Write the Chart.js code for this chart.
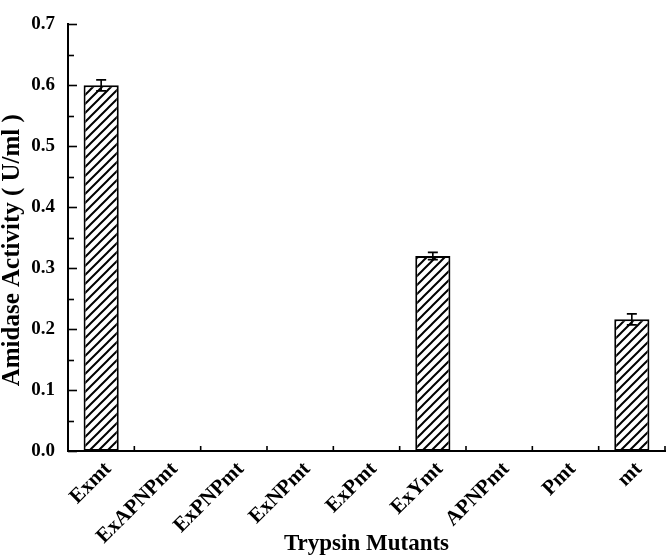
<!DOCTYPE html>
<html>
<head>
<meta charset="utf-8">
<script src="https://cdn.jsdelivr.net/npm/chart.js@4.4.1/dist/chart.umd.min.js"></script>
<style>
html,body{margin:0;padding:0;background:#fff;}
#wrap{width:666px;height:557px;}
</style>
</head>
<body>
<div id="wrap"><canvas id="c" width="666" height="557"></canvas></div>
<script>
const categories = ['Exmt','ExAPNPmt','ExPNPmt','ExNPmt','ExPmt','ExYmt','APNPmt','Pmt','mt'];
const activity = [0.600, 0, 0, 0, 0, 0.320, 0, 0, 0.216];
const activityError = [0.009, 0, 0, 0, 0, 0.006, 0, 0, 0.009];
const yTickValues = [0, 0.1, 0.2, 0.3, 0.4, 0.5, 0.6, 0.7];

function hatch() {
  const n = 9;
  const p = document.createElement('canvas');
  p.width = n; p.height = n;
  const g = p.getContext('2d');
  g.fillStyle = '#fff';
  g.fillRect(0, 0, n, n);
  g.strokeStyle = '#000';
  g.lineWidth = 2;
  g.beginPath();
  g.moveTo(-1, n + 1); g.lineTo(n + 1, -1);
  g.moveTo(-1, 1); g.lineTo(1, -1);
  g.moveTo(n - 1, n + 1); g.lineTo(n + 1, n - 1);
  g.stroke();
  return p;
}

const FONT = "'Liberation Serif', 'Times New Roman', serif";

const decor = {
  id: 'decor',
  afterDatasetsDraw(chart) {
    const ctx = chart.ctx;
    const x = chart.scales.x, y = chart.scales.y;
    const meta = chart.getDatasetMeta(0);
    ctx.save();
    ctx.strokeStyle = '#000';
    ctx.lineWidth = 1.6;
    activity.forEach((v, i) => {
      const e = activityError[i];
      if (!e) return;
      const cx = meta.data[i].x;
      const t = y.getPixelForValue(v + e), b = y.getPixelForValue(v - e);
      ctx.beginPath();
      ctx.moveTo(cx, t); ctx.lineTo(cx, b);
      ctx.moveTo(cx - 5, t); ctx.lineTo(cx + 5, t);
      ctx.moveTo(cx - 5, b); ctx.lineTo(cx + 5, b);
      ctx.stroke();
    });
    const left = chart.chartArea.left;
    for (let k = 0; k <= 14; k++) {
      const v = k * 0.05;
      const py = Math.round(y.getPixelForValue(v)) + 0.5;
      const len = (k % 2 === 0) ? 9 : 6;
      ctx.beginPath();
      ctx.moveTo(left, py); ctx.lineTo(left + len, py);
      ctx.stroke();
    }
    const bottom = chart.chartArea.bottom;
    for (let i = 0; i <= categories.length; i++) {
      const px = x.getPixelForValue(i - 0.5);
      ctx.beginPath();
      ctx.moveTo(px, bottom); ctx.lineTo(px, bottom - 5);
      ctx.stroke();
    }
    ctx.restore();
  }
};

new Chart(document.getElementById('c'), {
  type: 'bar',
  data: {
    labels: categories,
    datasets: [{
      data: activity,
      backgroundColor: ctx => ctx.chart.ctx.createPattern(hatch(), 'repeat'),
      borderColor: '#000',
      borderWidth: 2,
      borderSkipped: false,
      categoryPercentage: 1,
      barPercentage: 0.53
    }]
  },
  options: {
    responsive: false,
    animation: false,
    devicePixelRatio: 1,
    layout: { padding: { left: 0, top: 8, right: 1, bottom: 0 } },
    plugins: { legend: { display: false }, tooltip: { enabled: false } },
    scales: {
      x: {
        offset: true,
        grid: { display: false, drawTicks: false },
        border: { display: true, color: '#000', width: 2 },
        ticks: {
          color: '#000',
          font: { family: FONT, size: 21, weight: 'bold' },
          minRotation: 45, maxRotation: 45,
          padding: 6,
          labelOffset: 7,
          autoSkip: false
        },
        title: {
          display: true,
          text: 'Trypsin Mutants',
          color: '#000',
          font: { family: FONT, size: 23, weight: 'bold', lineHeight: 1 },
          padding: { top: 0, bottom: 1 }
        },
        afterFit(s) { s.height = 106; }
      },
      y: {
        min: 0, max: 0.7,
        afterBuildTicks(s) { s.ticks = yTickValues.map(v => ({ value: v })); },
        grid: { display: false, drawTicks: false },
        border: { display: true, color: '#000', width: 2 },
        ticks: {
          color: '#000',
          font: { family: FONT, size: 19, weight: 'bold' },
          padding: 13,
          callback: v => Number(v).toFixed(1)
        },
        title: {
          display: true,
          text: 'Amidase Activity ( U/ml )    ',
          color: '#000',
          font: { family: FONT, size: 25, weight: 'bold', lineHeight: 1 },
          padding: { top: 0, bottom: 0 }
        },
        afterFit(s) { s.width = 68; }
      }
    }
  },
  plugins: [decor]
});
</script>
</body>
</html>
